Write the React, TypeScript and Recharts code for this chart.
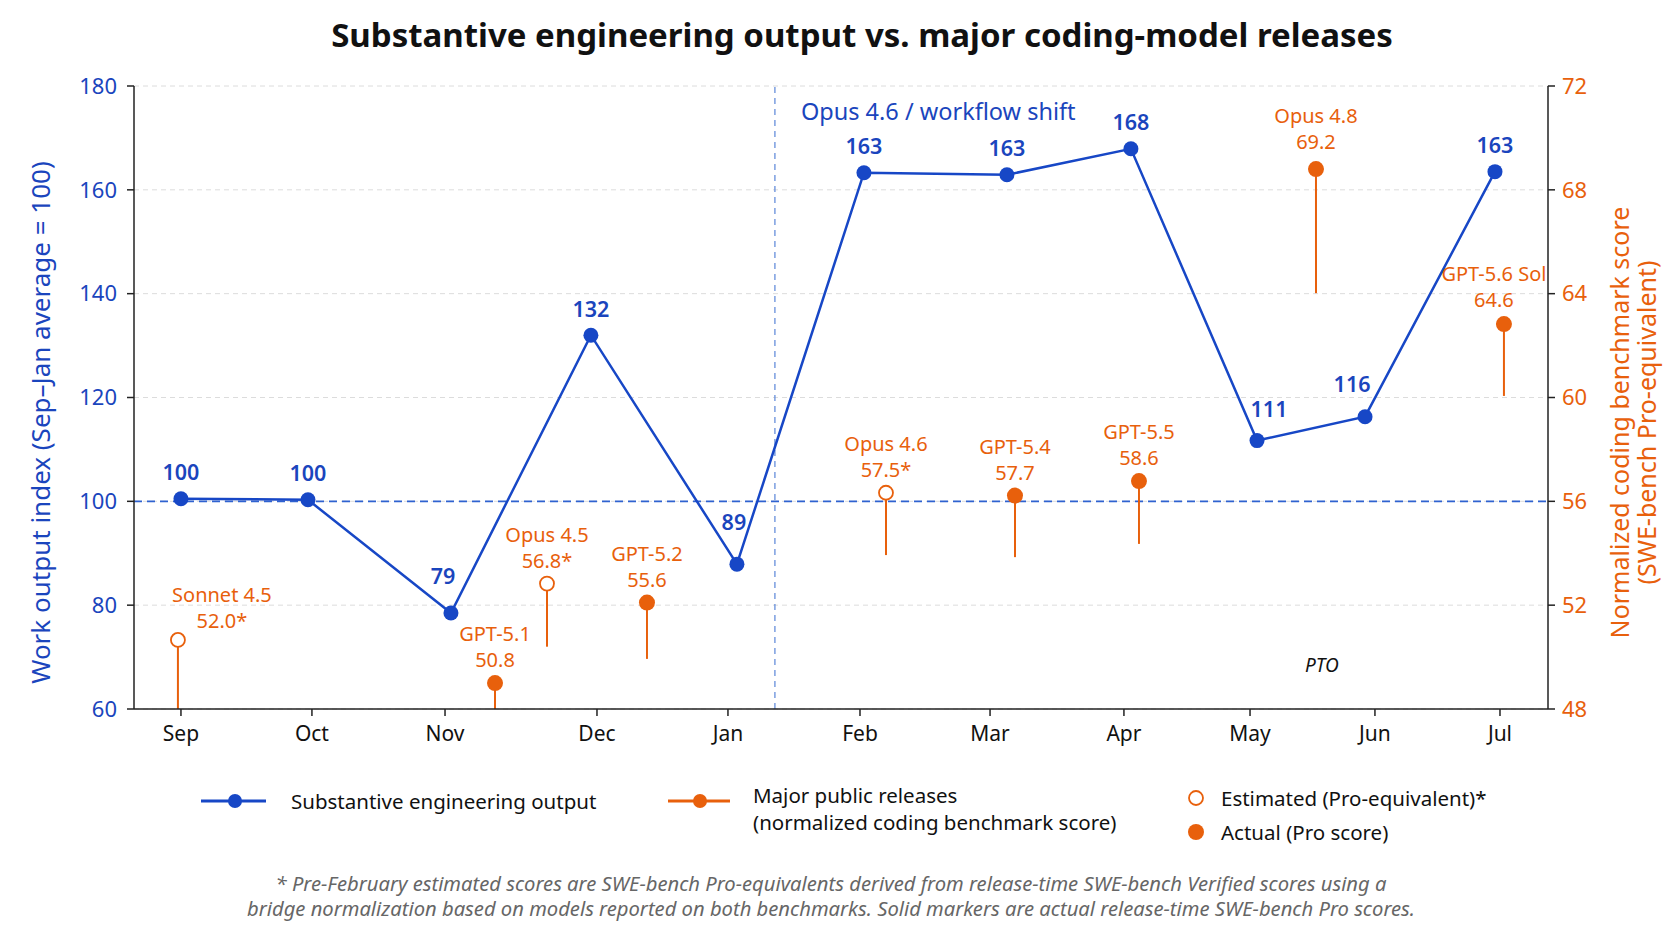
import React from "react";
import {
  ComposedChart,
  Line,
  Scatter,
  XAxis,
  YAxis,
  CartesianGrid,
  ReferenceLine,
  ReferenceDot,
} from "recharts";

// x positions are in "months since September"
const months = ["Sep", "Oct", "Nov", "Dec", "Jan", "Feb", "Mar", "Apr", "May", "Jun", "Jul"];
const monthPos = [0, 0.993, 2.002, 3.154, 4.147, 5.148, 6.134, 7.149, 8.105, 9.052, 10];

const outputX = [0, 0.963, 2.047, 3.108, 4.215, 5.178, 6.262, 7.202, 8.158, 8.977, 9.962];
const outputValues = [100.5, 100.3, 78.5, 132, 87.9, 163.3, 162.9, 167.9, 111.7, 116.3, 163.5];
const outputLabels = ["100", "100", "79", "132", "89", "163", "163", "168", "111", "116", "163"];

const releaseNames = ["Sonnet 4.5", "GPT-5.1", "Opus 4.5", "GPT-5.2", "Opus 4.6", "GPT-5.4", "GPT-5.5", "Opus 4.8", "GPT-5.6 Sol"];
const releaseX = [-0.023, 2.381, 2.775, 3.533, 5.345, 6.323, 7.263, 8.605, 10.03];
const releasePlotted = [50.66, 49.0, 52.83, 52.1, 56.33, 56.22, 56.78, 68.8, 62.83];
const releaseStemBase = [48, 48, 50.4, 49.93, 53.93, 53.85, 54.36, 64.02, 60.06];
const releaseScoreLabels = ["52.0*", "50.8", "56.8*", "55.6", "57.5*", "57.7", "58.6", "69.2", "64.6"];
const releaseEstimated = [true, false, true, false, true, false, false, false, false];

const leftTicks = [60, 80, 100, 120, 140, 160, 180];
const rightTicks = [48, 52, 56, 60, 64, 68, 72];
const baselineIndex = 100;
const workflowShiftX = 4.503;
const ptoX = 8.65;
const ptoY = 68.5;

const BLUE = "#1747c6";
const BLUE_TEXT = "#1a45bd";
const ORANGE = "#e8600c";

const outputData = outputX.map((x, i) => ({ x, value: outputValues[i], label: outputLabels[i], idx: i }));
const releaseData = releaseNames.map((name, i) => ({
  x: releaseX[i],
  score: releasePlotted[i],
  name,
  scoreLabel: releaseScoreLabels[i],
  estimated: releaseEstimated[i],
  idx: i,
}));

// label nudges (px), purely cosmetic
const outputNudge: Record<number, { dx: number; dy: number }> = {
  2: { dx: -8, dy: -37 },
  4: { dx: -3, dy: -43 },
  8: { dx: 12, dy: -32 },
  9: { dx: -13, dy: -33 },
};
const releaseNudge: Record<number, { dx: number; dy: number }> = {
  0: { dx: 44, dy: -46 },
  7: { dx: 0, dy: -54 },
  8: { dx: -10, dy: -51 },
};

const OutputDot = (props: any) => {
  const { cx, cy, payload } = props;
  const n = outputNudge[payload.idx] || { dx: 0, dy: -27 };
  return (
    <g key={`od${payload.idx}`}>
      <circle cx={cx} cy={cy} r={7.5} fill={BLUE} />
      <text
        x={cx + n.dx}
        y={cy + n.dy}
        textAnchor="middle"
        dominantBaseline="central"
        fontSize={21.5}
        fontWeight={600}
        fill={BLUE_TEXT}
      >
        {payload.label}
      </text>
    </g>
  );
};

const ReleaseMarker = (props: any) => {
  const { cx, cy, payload } = props;
  const n = releaseNudge[payload.idx] || { dx: 0, dy: -50 };
  return (
    <g>
      {payload.estimated ? (
        <circle cx={cx} cy={cy} r={7} fill="#fff" stroke={ORANGE} strokeWidth={1.8} />
      ) : (
        <circle cx={cx} cy={cy} r={8} fill={ORANGE} />
      )}
      <text textAnchor="middle" dominantBaseline="central" fontSize={20} fill={ORANGE}>
        <tspan x={cx + n.dx} y={cy + n.dy}>{payload.name}</tspan>
        <tspan x={cx + n.dx} y={cy + n.dy + 26}>{payload.scoreLabel}</tspan>
      </text>
    </g>
  );
};

const LeftTitle = (props: any) => {
  const { x, y, height } = props.viewBox;
  const cx = x + 6;
  const cy = y + height / 2 + 25;
  return (
    <text
      x={cx}
      y={cy}
      transform={`rotate(-90 ${cx} ${cy})`}
      textAnchor="middle"
      dominantBaseline="central"
      fontSize={26}
      fill={BLUE_TEXT}
    >
      Work output index (Sep–Jan average = 100)
    </text>
  );
};

const RightTitle = (props: any) => {
  const { x, y, height } = props.viewBox;
  const cy = y + height / 2 + 25;
  const x1 = x + 71;
  const x2 = x + 98;
  return (
    <g fontSize={25} fill={ORANGE}>
      <text x={x1} y={cy} transform={`rotate(-90 ${x1} ${cy})`} textAnchor="middle" dominantBaseline="central">
        Normalized coding benchmark score
      </text>
      <text x={x2} y={cy} transform={`rotate(-90 ${x2} ${cy})`} textAnchor="middle" dominantBaseline="central">
        (SWE-bench Pro-equivalent)
      </text>
    </g>
  );
};

const ShiftLabel = (props: any) => {
  const { x, y } = props.viewBox;
  return (
    <text x={x + 26} y={y + 25} dominantBaseline="central" fontSize={23.5} fill={BLUE_TEXT}>
      Opus 4.6 / workflow shift
    </text>
  );
};

const Overlay = () => (
  <svg
    width={1656}
    height={925}
    style={{ position: "absolute", left: 0, top: 0, pointerEvents: "none" }}
    fontFamily='"Noto Sans", sans-serif'
  >
    <text x={854} y={26} textAnchor="middle" dominantBaseline="central" fontSize={33} fontWeight={700} fill="#111">
      Substantive engineering output vs. major coding-model releases
    </text>

    <line x1={193} y1={793} x2={258} y2={793} stroke={BLUE} strokeWidth={3} />
    <circle cx={227} cy={793} r={7} fill={BLUE} />
    <text x={283} y={793} dominantBaseline="central" fontSize={20.5} fill="#111">
      Substantive engineering output
    </text>

    <line x1={660} y1={793} x2={722} y2={793} stroke={ORANGE} strokeWidth={3} />
    <circle cx={692} cy={793} r={7} fill={ORANGE} />
    <text fontSize={20.5} fill="#111" dominantBaseline="central">
      <tspan x={745} y={787}>Major public releases</tspan>
      <tspan x={745} y={814}>(normalized coding benchmark score)</tspan>
    </text>

    <circle cx={1188} cy={790} r={7} fill="#fff" stroke={ORANGE} strokeWidth={1.8} />
    <text x={1213} y={790} dominantBaseline="central" fontSize={20.5} fill="#111">
      Estimated (Pro-equivalent)*
    </text>
    <circle cx={1188} cy={824} r={8} fill={ORANGE} />
    <text x={1213} y={824} dominantBaseline="central" fontSize={20.5} fill="#111">
      Actual (Pro score)
    </text>

    <text fontSize={20.2} fontStyle="italic" fill="#666" textAnchor="middle" dominantBaseline="central">
      <tspan x={823} y={875}>
        * Pre-February estimated scores are SWE-bench Pro-equivalents derived from release-time SWE-bench Verified scores using a
      </tspan>
      <tspan x={823} y={900}>
        bridge normalization based on models reported on both benchmarks. Solid markers are actual release-time SWE-bench Pro scores.
      </tspan>
    </text>
  </svg>
);

export default function App() {
  return (
    <div style={{ position: "relative", width: 1656, height: 925, fontFamily: '"Noto Sans", sans-serif', background: "#fff" }}>
      <ComposedChart width={1656} height={925} margin={{ top: 78, right: 56, bottom: 184, left: 26 }}>
        <CartesianGrid yAxisId="left" vertical={false} stroke="#dcdcdc" strokeDasharray="5 4" />
        <XAxis
          dataKey="x"
          type="number"
          domain={[-0.356, 10.364]}
          ticks={monthPos}
          tickFormatter={(v: number) => months[monthPos.indexOf(v)] ?? ""}
          interval={0}
          height={40}
          tick={{ fill: "#111", fontSize: 21 }}
          tickSize={7}
          tickMargin={10}
          axisLine={{ stroke: "#222", strokeWidth: 1.5 }}
          tickLine={{ stroke: "#222", strokeWidth: 1.5 }}
          allowDataOverflow
        />
        <YAxis
          yAxisId="left"
          domain={[60, 180]}
          ticks={leftTicks}
          width={100}
          tick={{ fill: BLUE_TEXT, fontSize: 22 }}
          tickSize={7}
          tickMargin={10}
          axisLine={{ stroke: "#222", strokeWidth: 1.5 }}
          tickLine={{ stroke: "#222", strokeWidth: 1.5 }}
          label={<LeftTitle />}
        />
        <YAxis
          yAxisId="right"
          orientation="right"
          domain={[48, 72]}
          ticks={rightTicks}
          width={60}
          tick={{ fill: ORANGE, fontSize: 22 }}
          tickSize={7}
          tickMargin={7}
          axisLine={{ stroke: "#222", strokeWidth: 1.5 }}
          tickLine={{ stroke: "#222", strokeWidth: 1.5 }}
          label={<RightTitle />}
        />
        <ReferenceLine yAxisId="left" y={baselineIndex} stroke="#2f62d0" strokeWidth={1.6} strokeDasharray="8 5" />
        <ReferenceLine
          yAxisId="left"
          x={workflowShiftX}
          stroke="#5a85d8"
          strokeWidth={1.2}
          strokeDasharray="6 5"
          label={<ShiftLabel />}
        />
        <ReferenceDot
          yAxisId="left"
          x={ptoX}
          y={ptoY}
          r={0}
          fill="none"
          stroke="none"
          label={{ value: "PTO", position: "center", fill: "#111", fontSize: 19, fontStyle: "italic" }}
        />
        {releaseData.map((r, i) => (
          <Line
            key={r.name}
            yAxisId="right"
            data={[
              { x: r.x, v: releaseStemBase[i] },
              { x: r.x, v: r.score },
            ]}
            dataKey="v"
            stroke={ORANGE}
            strokeWidth={2}
            dot={false}
            activeDot={false}
            legendType="none"
            isAnimationActive={false}
          />
        ))}
        <Scatter
          yAxisId="right"
          data={releaseData}
          dataKey="score"
          shape={ReleaseMarker}
          isAnimationActive={false}
        />
        <Line
          yAxisId="left"
          data={outputData}
          dataKey="value"
          stroke={BLUE}
          strokeWidth={2.5}
          dot={OutputDot}
          activeDot={false}
          isAnimationActive={false}
        />
      </ComposedChart>
      <Overlay />
    </div>
  );
}
